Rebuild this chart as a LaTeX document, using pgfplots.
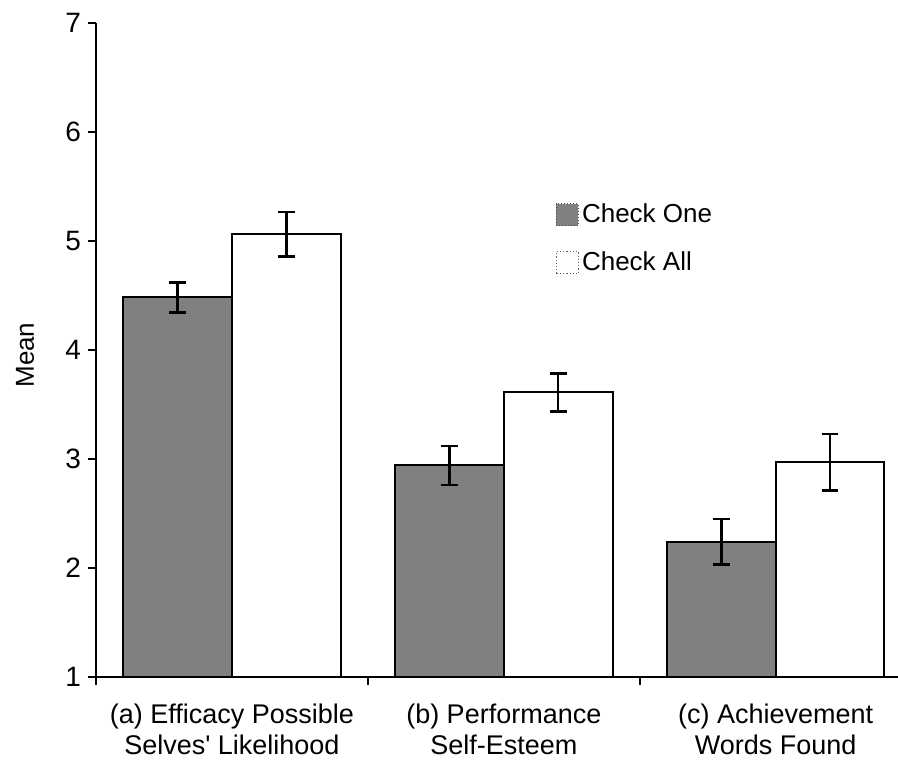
\documentclass[border=0pt]{standalone}
\usepackage{pgfplots}
\pgfplotsset{compat=1.18}
\usepackage{pgfplotstable}
\usepackage{fontspec}
\setmainfont{Liberation Sans}[Ligatures=TeXOff]
\definecolor{barGray}{gray}{0.50}
\pgfplotstableread{
x y err
0 4.48 0.14
1 2.94 0.18
2 2.24 0.21
}\checkone
\pgfplotstableread{
x y err
0 5.06 0.205
1 3.61 0.175
2 2.97 0.26
}\checkall
\begin{document}
\begin{tikzpicture}
\useasboundingbox (-48pt,-43pt) rectangle (401pt,338.5pt);
\begin{axis}[
  scale only axis,
  width=401pt, height=327.15pt,
  xmin=-0.5, xmax=2.45,
  ymin=1, ymax=7,
  axis x line=bottom, axis y line=left,
  axis line style={-, line width=1pt},
  tick style={line width=1pt, black},
  major tick length=4pt,
  tick align=outside,
  ytick={1,2,3,4,5,6,7},
  xtick={-0.5,0.5,1.5},
  xticklabels={},
  extra x ticks={0,1,2},
  extra x tick labels={{(a) Efficacy Possible\\Selves' Likelihood},{(b) Performance\\Self-Esteem},{(c) Achievement\\Words Found}},
  extra x tick style={major tick length=0pt, tick style={draw=none},
     tick label style={align=center, yshift=-10pt, font=\fontsize{13.5}{15.5}\selectfont}},
  /pgf/number format/assume math mode=true,
  yticklabel style={font=\fontsize{14}{16}\selectfont},
  ylabel={Mean},
  ylabel style={at={(axis description cs:-0.0885,0.492)}, anchor=center, font=\fontsize{13}{15}\selectfont},
  legend style={at={(axis cs:1.19,5.38)}, anchor=north west, draw=none, fill=none,
     inner sep=0pt, row sep=9pt, font=\fontsize{13}{15}\selectfont,
     nodes={inner xsep=1.5pt},
     /tikz/every odd column/.append style={column sep=0pt}},
  legend cell align=left,
  clip=true,
]
\addplot[ybar, bar width=0.4, bar shift=0pt, fill=barGray, draw=black, line width=1pt,
  legend image code/.code={\path[fill=barGray, draw=black!70, densely dotted, line width=0.5pt] (0pt,-5.5pt) rectangle (11pt,5.5pt);},
  error bars/.cd, y dir=both, y explicit,
  error bar style={line width=1.3pt, black},
  error mark options={rotate=90, line width=1.3pt, mark size=4.2pt, black},
  ] table[x expr=\thisrow{x}-0.2, y=y, y error=err] {\checkone};
\addlegendentry{Check One}
\addplot[ybar, bar width=0.4, bar shift=0pt, fill=white, draw=black, line width=1pt,
  legend image code/.code={\path[fill=white, draw=black!60, densely dotted, line width=0.6pt] (0pt,-5.5pt) rectangle (11pt,5.5pt);},
  error bars/.cd, y dir=both, y explicit,
  error bar style={line width=1.3pt, black},
  error mark options={rotate=90, line width=1.3pt, mark size=4.2pt, black},
  ] table[x expr=\thisrow{x}+0.2, y=y, y error=err] {\checkall};
\addlegendentry{Check All}
\end{axis}
\end{tikzpicture}
\end{document}
